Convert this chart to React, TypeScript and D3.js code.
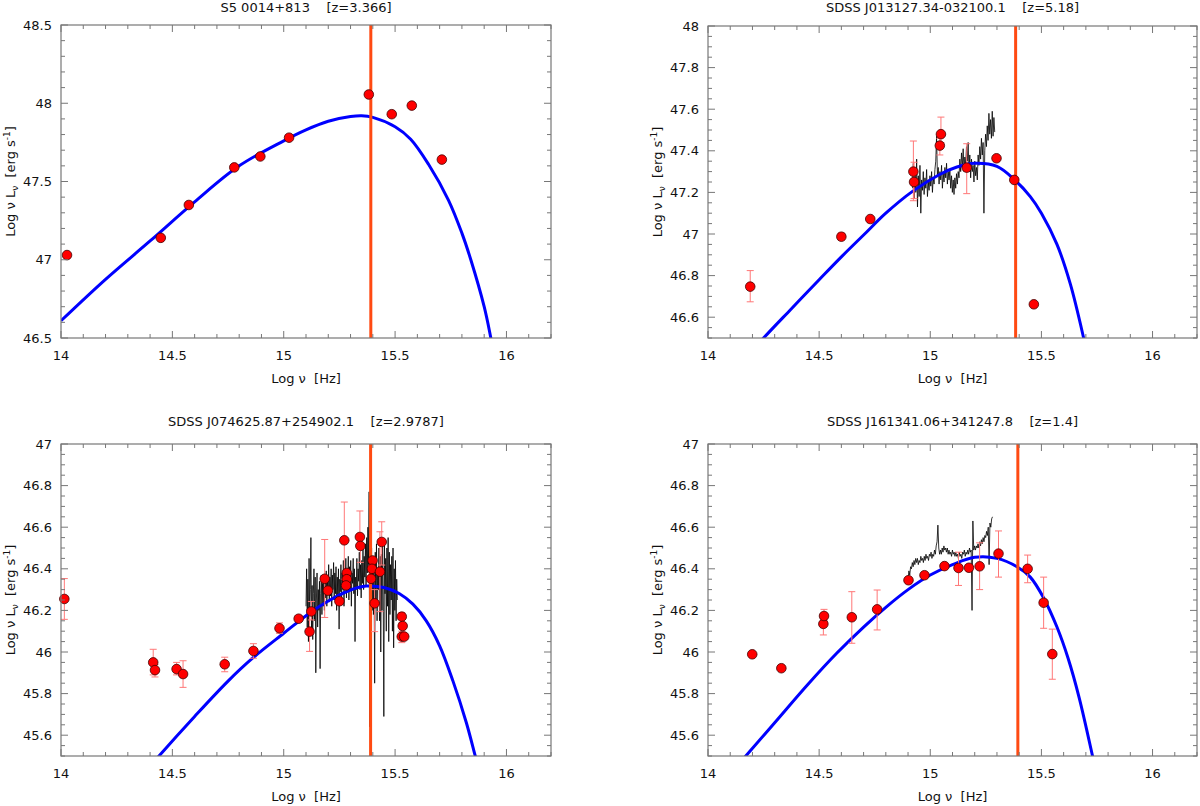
import React from "react";
import * as d3 from "d3";

type Pt = [number, number];
type Obs = { x: number; y: number; lo?: number; hi?: number };

// ---- tick labels ----
const xMajor = [14, 14.5, 15, 15.5, 16];
const yMajorTop1 = [46.5, 47, 47.5, 48, 48.5];
const yMajorTop2 = [46.6, 46.8, 47, 47.2, 47.4, 47.6, 47.8, 48];
const yMajorBottom = [45.6, 45.8, 46, 46.2, 46.4, 46.6, 46.8, 47];

// ---- S5 0014+813 ----
const s5Obs: Obs[] = [
  { x: 14.027, y: 47.03 },
  { x: 14.448, y: 47.14 },
  { x: 14.574, y: 47.35 },
  { x: 14.778, y: 47.59 },
  { x: 14.895, y: 47.66 },
  { x: 15.024, y: 47.78 },
  { x: 15.382, y: 48.056 },
  { x: 15.485, y: 47.93 },
  { x: 15.575, y: 47.985 },
  { x: 15.71, y: 47.64 },
];
const s5Model: Pt[] = [
  [14.0, 46.61], [14.2, 46.875], [14.4, 47.12], [14.6, 47.37], [14.8, 47.6],
  [15.0, 47.76], [15.1, 47.83], [15.2, 47.885], [15.3, 47.915], [15.35, 47.92],
  [15.4, 47.91], [15.5, 47.85], [15.57, 47.77], [15.65, 47.61], [15.74, 47.38],
  [15.8, 47.17], [15.84, 47.0], [15.9, 46.7], [15.93, 46.5], [15.95, 46.35],
];

// ---- SDSS J013127.34-032100.1 ----
const j0131Obs: Obs[] = [
  { x: 14.19, y: 46.747, lo: 46.674, hi: 46.824 },
  { x: 14.6, y: 46.987, lo: 46.97, hi: 47.005 },
  { x: 14.73, y: 47.072 },
  { x: 14.924, y: 47.3, lo: 47.16, hi: 47.447 },
  { x: 14.927, y: 47.25, lo: 47.17, hi: 47.345 },
  { x: 15.043, y: 47.425, lo: 47.38, hi: 47.46 },
  { x: 15.048, y: 47.48, lo: 47.44, hi: 47.562 },
  { x: 15.164, y: 47.319, lo: 47.194, hi: 47.434 },
  { x: 15.298, y: 47.364 },
  { x: 15.378, y: 47.26 },
  { x: 15.466, y: 46.662 },
];
const j0131Model: Pt[] = [
  [14.2, 46.44], [14.25, 46.5], [14.37, 46.635], [14.5, 46.78], [14.6, 46.89],
  [14.7, 46.995], [14.8, 47.1], [14.92, 47.205], [15.04, 47.285], [15.12, 47.322],
  [15.2, 47.34], [15.3, 47.325], [15.38, 47.26], [15.45, 47.18], [15.5, 47.1],
  [15.57, 46.95], [15.63, 46.76], [15.69, 46.5], [15.71, 46.4],
];
const j0131SpecRange: Pt = [14.92, 15.29];
const j0131Spec = [
  47.22, 47.34, 47.17, 47.3, 47.2, 47.36, 47.13, 47.28, 47.18, 47.33,
  47.1, 47.26, 47.21, 47.3, 47.19, 47.27, 47.22, 47.31, 47.18, 47.25,
  47.21, 47.28, 47.23, 47.3, 47.2, 47.27, 47.24, 47.31, 47.35, 47.47,
  47.28, 47.32, 47.24, 47.3, 47.26, 47.33, 47.22, 47.29, 47.25, 47.32,
  47.27, 47.34, 47.24, 47.3, 47.26, 47.31, 47.22, 47.28, 47.2, 47.26,
  47.19, 47.27, 47.22, 47.29, 47.24, 47.3, 47.27, 47.36, 47.3, 47.39,
  47.32, 47.41, 47.3, 47.37, 47.33, 47.42, 47.35, 47.44, 47.3, 47.38,
  47.27, 47.36, 47.3, 47.33, 47.25, 47.35, 47.28, 47.32, 47.26, 47.38,
  47.33, 47.42, 47.36, 47.46, 47.38, 47.44, 47.1, 47.4, 47.48, 47.42,
  47.52, 47.45, 47.58, 47.48, 47.55, 47.46, 47.59, 47.47, 47.56, 47.49,
];

// ---- SDSS J074625.87+254902.1 ----
const j0746Obs: Obs[] = [
  { x: 14.015, y: 46.255, lo: 46.157, hi: 46.353 },
  { x: 14.414, y: 45.95, lo: 45.89, hi: 46.013 },
  { x: 14.422, y: 45.913, lo: 45.88, hi: 45.94 },
  { x: 14.519, y: 45.918, lo: 45.89, hi: 45.95 },
  { x: 14.548, y: 45.894, lo: 45.83, hi: 45.958 },
  { x: 14.735, y: 45.941, lo: 45.905, hi: 45.975 },
  { x: 14.864, y: 46.005, lo: 45.97, hi: 46.04 },
  { x: 14.981, y: 46.114, lo: 46.09, hi: 46.14 },
  { x: 15.067, y: 46.16 },
  { x: 15.116, y: 46.098, lo: 46.003, hi: 46.195 },
  { x: 15.124, y: 46.195, lo: 46.154, hi: 46.243 },
  { x: 15.184, y: 46.352, lo: 46.166, hi: 46.541 },
  { x: 15.198, y: 46.295 },
  { x: 15.25, y: 46.244 },
  { x: 15.272, y: 46.537, lo: 46.35, hi: 46.721 },
  { x: 15.283, y: 46.38 },
  { x: 15.283, y: 46.35 },
  { x: 15.28, y: 46.32 },
  { x: 15.342, y: 46.553, lo: 46.5, hi: 46.678 },
  { x: 15.344, y: 46.51, lo: 46.431, hi: 46.56 },
  { x: 15.399, y: 46.44 },
  { x: 15.396, y: 46.4 },
  { x: 15.392, y: 46.352 },
  { x: 15.408, y: 46.234, lo: 46.098, hi: 46.3 },
  { x: 15.432, y: 46.386, lo: 46.194, hi: 46.578 },
  { x: 15.44, y: 46.529, lo: 46.418, hi: 46.626 },
  { x: 15.53, y: 46.17, lo: 46.14, hi: 46.19 },
  { x: 15.534, y: 46.125 },
  { x: 15.53, y: 46.074, lo: 46.045, hi: 46.1 },
  { x: 15.541, y: 46.074 },
];
const j0746Model: Pt[] = [
  [14.4, 45.45], [14.44, 45.5], [14.6, 45.69], [14.75, 45.86], [14.86, 45.97],
  [15.0, 46.09], [15.12, 46.19], [15.2, 46.245], [15.3, 46.298], [15.37, 46.317],
  [15.45, 46.31], [15.52, 46.28], [15.58, 46.23], [15.64, 46.15], [15.7, 46.03],
  [15.76, 45.86], [15.82, 45.66], [15.86, 45.5], [15.88, 45.42],
];
const j0746SpecRange: Pt = [15.1, 15.51];
const j0746Spec = [
  46.22, 46.4, 46.12, 46.35, 46.05, 46.45, 46.18, 46.3, 46.55, 46.1,
  46.32, 46.06, 46.28, 46.4, 46.15, 46.36, 45.9, 46.25, 46.38, 46.12,
  46.3, 46.2, 46.34, 45.92, 46.28, 46.37, 46.18, 46.33, 46.22, 46.36,
  46.2, 46.34, 46.26, 46.39, 46.22, 46.35, 46.28, 46.42, 46.24, 46.36,
  46.27, 46.4, 46.22, 46.37, 46.3, 46.43, 46.25, 46.38, 46.28, 46.41,
  46.2, 46.36, 46.27, 46.4, 46.11, 46.35, 46.29, 46.42, 46.24, 46.38,
  46.3, 46.44, 46.22, 46.39, 46.31, 46.45, 46.26, 46.4, 46.33, 46.46,
  46.25, 46.41, 46.3, 46.44, 46.22, 46.38, 46.33, 46.45, 46.28, 46.4,
  46.05, 46.36, 46.3, 46.45, 46.27, 46.4, 46.34, 46.48, 46.3, 46.42,
  46.26, 46.44, 46.33, 46.5, 46.3, 46.46, 46.36, 46.52, 46.32, 46.55,
  46.38, 46.6, 46.42, 46.77, 45.64, 46.48, 46.25, 46.5, 46.2, 46.45,
  46.18, 46.42, 45.85, 46.48, 46.22, 46.52, 46.15, 46.4, 46.3, 46.5,
  46.15, 46.46, 46.0, 46.47, 46.2, 46.52, 46.25, 45.69, 46.53, 46.28,
  46.45, 46.1, 46.5, 46.22, 46.55, 46.05, 46.48, 46.18, 46.42, 46.25,
  46.46, 46.1, 46.5, 46.02, 46.4, 46.2, 46.44, 46.15, 46.35, 46.25,
];

// ---- SDSS J161341.06+341247.8 ----
const j1613Obs: Obs[] = [
  { x: 14.199, y: 45.989 },
  { x: 14.33, y: 45.922 },
  { x: 14.519, y: 46.135, lo: 46.082, hi: 46.16 },
  { x: 14.522, y: 46.173, lo: 46.15, hi: 46.205 },
  { x: 14.647, y: 46.167, lo: 46.042, hi: 46.29 },
  { x: 14.761, y: 46.205, lo: 46.106, hi: 46.298 },
  { x: 14.902, y: 46.345 },
  { x: 14.974, y: 46.369 },
  { x: 15.064, y: 46.413 },
  { x: 15.127, y: 46.404, lo: 46.32, hi: 46.48 },
  { x: 15.174, y: 46.405 },
  { x: 15.222, y: 46.412, lo: 46.3, hi: 46.525 },
  { x: 15.307, y: 46.473, lo: 46.36, hi: 46.582 },
  { x: 15.438, y: 46.4, lo: 46.333, hi: 46.466 },
  { x: 15.51, y: 46.237, lo: 46.114, hi: 46.36 },
  { x: 15.549, y: 45.99, lo: 45.869, hi: 46.11 },
];
const j1613Model: Pt[] = [
  [14.15, 45.475], [14.17, 45.5], [14.3, 45.66], [14.45, 45.845], [14.58, 45.995],
  [14.7, 46.12], [14.8, 46.215], [14.9, 46.3], [15.0, 46.37], [15.1, 46.42],
  [15.2, 46.455], [15.3, 46.45], [15.39, 46.41], [15.45, 46.36], [15.51, 46.26],
  [15.57, 46.12], [15.62, 45.97], [15.67, 45.78], [15.73, 45.5], [15.75, 45.4],
];
const j1613SpecRange: Pt = [14.9, 15.28];
const j1613Spec = [
  46.35, 46.39, 46.37, 46.41, 46.4, 46.43, 46.41, 46.44, 46.42, 46.45,
  46.43, 46.45, 46.42, 46.44, 46.43, 46.46, 46.44, 46.45, 46.43, 46.46,
  46.44, 46.47, 46.45, 46.46, 46.44, 46.47, 46.46, 46.48, 46.45, 46.47,
  46.46, 46.49, 46.47, 46.51, 46.53, 46.61, 46.5, 46.47, 46.49, 46.47,
  46.5, 46.48, 46.51, 46.49, 46.5, 46.48, 46.5, 46.47, 46.49, 46.47,
  46.48, 46.46, 46.49, 46.47, 46.48, 46.46, 46.48, 46.46, 46.47, 46.45,
  46.48, 46.46, 46.47, 46.45, 46.48, 46.47, 46.49, 46.46, 46.48, 46.47,
  46.49, 46.47, 46.5, 46.48, 46.49, 46.2, 46.63, 46.49, 46.51, 46.49,
  46.51, 46.5, 46.52, 46.5, 46.53, 46.51, 46.54, 46.52, 46.55, 46.53,
  46.56, 46.55, 46.58, 46.56, 46.6, 46.42, 46.62, 46.6, 46.64, 46.65,
];

// Lyman-alpha marker per panel
const lyaX = [15.391, 15.384, 15.39, 15.394];

type PanelCfg = {
  title: string;
  left: number;
  right: number;
  top: number;
  bottom: number;
  titleY: number;
  yDomain: [number, number];
  yMajor: number[];
  yMinorStep: number;
  obs: Obs[];
  model: Pt[];
  spec?: number[];
  specRange?: Pt;
  lya: number;
};

const panels: PanelCfg[] = [
  {
    title: "S5 0014+813    [z=3.366]",
    left: 61, right: 551, top: 25, bottom: 338, titleY: 12,
    yDomain: [46.5, 48.5], yMajor: yMajorTop1, yMinorStep: 0.1,
    obs: s5Obs, model: s5Model, lya: lyaX[0],
  },
  {
    title: "SDSS J013127.34-032100.1    [z=5.18]",
    left: 708, right: 1197, top: 26, bottom: 338, titleY: 12,
    yDomain: [46.5, 48], yMajor: yMajorTop2, yMinorStep: 0.05,
    obs: j0131Obs, model: j0131Model, spec: j0131Spec, specRange: j0131SpecRange, lya: lyaX[1],
  },
  {
    title: "SDSS J074625.87+254902.1    [z=2.9787]",
    left: 61, right: 551, top: 444, bottom: 756, titleY: 426,
    yDomain: [45.5, 47], yMajor: yMajorBottom, yMinorStep: 0.05,
    obs: j0746Obs, model: j0746Model, spec: j0746Spec, specRange: j0746SpecRange, lya: lyaX[2],
  },
  {
    title: "SDSS J161341.06+341247.8    [z=1.4]",
    left: 708, right: 1197, top: 444, bottom: 756, titleY: 426,
    yDomain: [45.5, 47], yMajor: yMajorBottom, yMinorStep: 0.05,
    obs: j1613Obs, model: j1613Model, spec: j1613Spec, specRange: j1613SpecRange, lya: lyaX[3],
  },
];

const FONT = "'DejaVu Sans', Verdana, sans-serif";
const AXIS = "#777";

function Panel({ cfg, idx }: { cfg: PanelCfg; idx: number }) {
  const x = d3.scaleLinear().domain([14, 16.2]).range([cfg.left, cfg.right]);
  const y = d3.scaleLinear().domain(cfg.yDomain).range([cfg.bottom, cfg.top]);

  const near = (a: number, list: number[]) => list.some((b) => Math.abs(a - b) < 1e-6);
  const xMinor = d3.range(14, 16.2001, 0.1).map((v) => +v.toFixed(3)).filter((v) => !near(v, xMajor));
  const yMinor = d3
    .range(cfg.yDomain[0], cfg.yDomain[1] + 1e-4, cfg.yMinorStep)
    .map((v) => +v.toFixed(3))
    .filter((v) => !near(v, cfg.yMajor));

  const modelLine = d3
    .line<Pt>()
    .x((d) => x(d[0]))
    .y((d) => y(d[1]))
    .curve(d3.curveCatmullRom.alpha(0.5));

  let specPath: string | null = null;
  if (cfg.spec && cfg.specRange) {
    const s = cfg.spec;
    const xs = d3.scaleLinear().domain([0, s.length - 1]).range(cfg.specRange);
    specPath = d3
      .line<number>()
      .x((_, i) => x(xs(i)))
      .y((d) => y(d))(s);
  }

  const clipId = `clip-${idx}`;
  const cx = (cfg.left + cfg.right) / 2;
  const cy = (cfg.top + cfg.bottom) / 2;
  const maj = 7;
  const min = 4;

  return (
    <g fontFamily={FONT}>
      <defs>
        <clipPath id={clipId}>
          <rect x={cfg.left} y={cfg.top} width={cfg.right - cfg.left} height={cfg.bottom - cfg.top} />
        </clipPath>
      </defs>

      <text x={cx} y={cfg.titleY} textAnchor="middle" fontSize={13} fill="#111" style={{ whiteSpace: "pre" }}>
        {cfg.title}
      </text>

      <g clipPath={`url(#${clipId})`}>
        {specPath && <path d={specPath} fill="none" stroke="#000" strokeWidth={0.8} />}
        <path d={modelLine(cfg.model) || ""} fill="none" stroke="#0000ff" strokeWidth={3} />
        <line x1={x(cfg.lya)} x2={x(cfg.lya)} y1={cfg.top} y2={cfg.bottom} stroke="#ff4a12" strokeWidth={3} />
      </g>

      {/* error bars */}
      {cfg.obs
        .filter((d) => d.lo !== undefined && d.hi !== undefined)
        .map((d, i) => (
          <g key={`e${i}`} stroke="#f77" strokeWidth={1}>
            <line x1={x(d.x)} x2={x(d.x)} y1={y(d.lo!)} y2={y(d.hi!)} />
            <line x1={x(d.x) - 3.5} x2={x(d.x) + 3.5} y1={y(d.lo!)} y2={y(d.lo!)} />
            <line x1={x(d.x) - 3.5} x2={x(d.x) + 3.5} y1={y(d.hi!)} y2={y(d.hi!)} />
          </g>
        ))}
      {cfg.obs.map((d, i) => (
        <circle key={`c${i}`} cx={x(d.x)} cy={y(d.y)} r={4.8} fill="#ff0000" stroke="#400" strokeWidth={0.8} />
      ))}

      {/* frame */}
      <rect
        x={cfg.left}
        y={cfg.top}
        width={cfg.right - cfg.left}
        height={cfg.bottom - cfg.top}
        fill="none"
        stroke={AXIS}
        strokeWidth={1.2}
      />
      <g stroke={AXIS} strokeWidth={1}>
        {xMajor.map((v) => (
          <g key={`xm${v}`}>
            <line x1={x(v)} x2={x(v)} y1={cfg.bottom} y2={cfg.bottom - maj} />
            <line x1={x(v)} x2={x(v)} y1={cfg.top} y2={cfg.top + maj} />
          </g>
        ))}
        {xMinor.map((v) => (
          <g key={`xn${v}`}>
            <line x1={x(v)} x2={x(v)} y1={cfg.bottom} y2={cfg.bottom - min} />
            <line x1={x(v)} x2={x(v)} y1={cfg.top} y2={cfg.top + min} />
          </g>
        ))}
        {cfg.yMajor.map((v) => (
          <g key={`ym${v}`}>
            <line x1={cfg.left} x2={cfg.left + maj} y1={y(v)} y2={y(v)} />
            <line x1={cfg.right} x2={cfg.right - maj} y1={y(v)} y2={y(v)} />
          </g>
        ))}
        {yMinor.map((v) => (
          <g key={`yn${v}`}>
            <line x1={cfg.left} x2={cfg.left + min} y1={y(v)} y2={y(v)} />
            <line x1={cfg.right} x2={cfg.right - min} y1={y(v)} y2={y(v)} />
          </g>
        ))}
      </g>

      {xMajor.map((v) => (
        <text key={`xl${v}`} x={x(v)} y={cfg.bottom + 22} textAnchor="middle" fontSize={13} fill="#111">
          {String(v)}
        </text>
      ))}
      {cfg.yMajor.map((v) => (
        <text
          key={`yl${v}`}
          x={cfg.left - 9}
          y={y(v)}
          dy="0.36em"
          textAnchor="end"
          fontSize={13}
          fill="#111"
        >
          {String(v)}
        </text>
      ))}

      <text x={cx} y={cfg.bottom + 45} textAnchor="middle" fontSize={13} fill="#111" style={{ whiteSpace: "pre" }}>
        {"Log ν  [Hz]"}
      </text>
      <text
        transform={`translate(${cfg.left - 46},${cy}) rotate(-90)`}
        textAnchor="middle"
        fontSize={13}
        fill="#111"
        style={{ whiteSpace: "pre" }}
      >
        {"Log ν L"}
        <tspan fontSize={9} dy={3}>
          ν
        </tspan>
        <tspan dy={-3}>{"  [erg s"}</tspan>
        <tspan fontSize={9} dy={-5}>
          -1
        </tspan>
        <tspan dy={5}>]</tspan>
      </text>
    </g>
  );
}

export default function App() {
  return (
    <div style={{ position: "absolute", left: 0, top: 0 }}>
      <svg width={1200} height={806} viewBox="0 0 1200 806" style={{ display: "block", background: "#fff" }}>
        <rect width={1200} height={806} fill="#fff" />
        {panels.map((p, i) => (
          <Panel key={i} cfg={p} idx={i} />
        ))}
      </svg>
    </div>
  );
}
